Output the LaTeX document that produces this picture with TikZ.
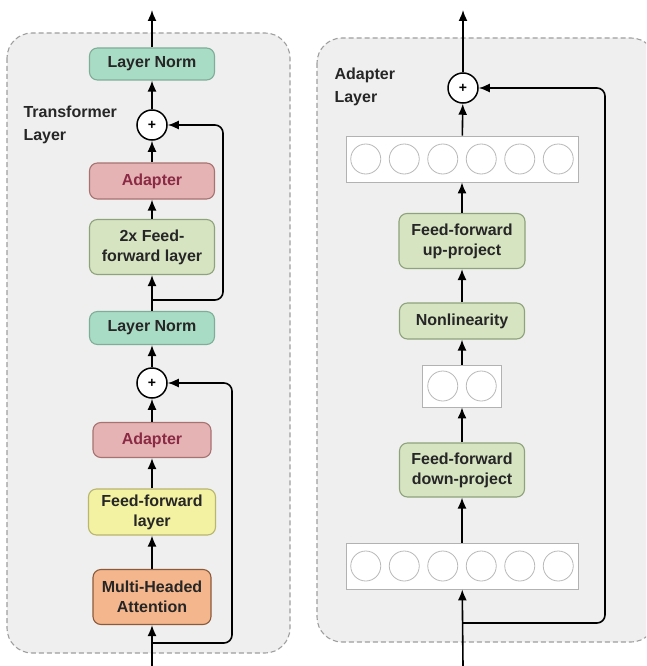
\documentclass[tikz,border=0pt]{standalone}
\usepackage{fontspec}
\setmainfont{Liberation Sans}
\usepackage{xcolor}
\usepackage{tikz}
\usetikzlibrary{arrows.meta}
\usetikzlibrary{positioning}

\definecolor{panelgray}{HTML}{EFEFEF}
\definecolor{normfill}{HTML}{A9DCC5}
\definecolor{normline}{HTML}{7FAE98}
\definecolor{adapterfill}{HTML}{E5B3B3}
\definecolor{adapterline}{HTML}{A87272}
\definecolor{adaptertext}{HTML}{8A2A45}
\definecolor{fffill}{HTML}{D6E4C2}
\definecolor{ffline}{HTML}{8FA37B}
\definecolor{yellowfill}{HTML}{F3F1A2}
\definecolor{yellowline}{HTML}{B9B66E}
\definecolor{attnfill}{HTML}{F4B68C}
\definecolor{attnline}{HTML}{8C5A3A}

\tikzset{
  panel/.style={draw=gray!75, dashed, dash pattern=on 5pt off 3pt, line width=1.1pt, rounded corners=25pt, fill=panelgray},
  block/.style={draw, rounded corners=8pt, line width=1.1pt, align=center, inner sep=2pt,
    font=\bfseries\fontsize{16}{20}\selectfont, text=black!85},
  sum/.style={draw, circle, line width=1.5pt, minimum size=30pt, inner sep=0pt, fill=white,
    font=\bfseries\fontsize{14}{14}\selectfont},
  neuronrow/.style={draw=gray!60, fill=white, line width=0.8pt, inner sep=0pt},
  neuron/.style={draw=gray!55, circle, fill=white, line width=0.8pt, minimum size=30pt, inner sep=0pt},
  flow/.style={draw, line width=1.6pt, rounded corners=8pt, -{Latex[length=11pt,width=9pt]}},
  title/.style={align=left, anchor=west, font=\bfseries\fontsize{16}{23}\selectfont, text=black!85}
}

\begin{document}
\begin{tikzpicture}[x=1pt, y=-1pt]

\clip (0,0) rectangle (646,666);
\fill[white] (0,0) rectangle (646,666);

% panels
\path[panel] (7,33) rectangle (290,653);
\path[panel] (317,38) rectangle (656,642);

% transformer layer
\node[block, fill=normfill, draw=normline, minimum width=125pt, minimum height=32pt] (lnA) at (152,64) {Layer Norm};
\node[sum] (sumA) at (152,125) {+};
\node[block, fill=adapterfill, draw=adapterline, text=adaptertext, minimum width=125pt, minimum height=36pt] (adA) at (152,181) {Adapter};
\node[block, fill=fffill, draw=ffline, minimum width=125pt, minimum height=55pt] (ffA) at (152,247) {2x Feed-\\forward layer};
\node[block, fill=normfill, draw=normline, minimum width=125pt, minimum height=33pt] (lnB) at (152,328) {Layer Norm};
\node[sum] (sumB) at (152,383) {+};
\node[block, fill=adapterfill, draw=adapterline, text=adaptertext, minimum width=118pt, minimum height=35pt] (adB) at (152,440) {Adapter};
\node[block, fill=yellowfill, draw=yellowline, minimum width=127pt, minimum height=46pt] (ffB) at (152,512) {Feed-forward\\layer};
\node[block, fill=attnfill, draw=attnline, minimum width=118pt, minimum height=55pt] (mha) at (152,597) {Multi-Headed\\Attention};
\node[title] (tlabel) at (20,125) {Transformer\\Layer};

\coordinate (outA) at (152,10);
\coordinate (inA) at (152,666);
\coordinate (forkA) at (152,300);
\coordinate (forkB) at (152,643);

% adapter layer
\node[sum] (sumC) at (463,88) {+};
\node[neuronrow, minimum width=232pt, minimum height=46pt] (upper) at (462,159) {};
\node[block, fill=fffill, draw=ffline, minimum width=126pt, minimum height=55pt] (ffUp) at (462,241) {Feed-forward\\up-project};
\node[block, fill=fffill, draw=ffline, minimum width=125pt, minimum height=36pt] (nonlin) at (462,321) {Nonlinearity};
\node[neuronrow, minimum width=79pt, minimum height=42pt] (middle) at (462,386) {};
\node[block, fill=fffill, draw=ffline, minimum width=125pt, minimum height=54pt] (ffDown) at (462,470) {Feed-forward\\down-project};
\node[neuronrow, minimum width=232pt, minimum height=46pt] (lower) at (462,566) {};
\node[title] (alabel) at (331,87) {Adapter\\Layer};

\foreach \i in {0,...,5} {
  \node[neuron] (up\i) at (365.75+38.5*\i,159) {};
  \node[neuron] (lo\i) at (365.75+38.5*\i,566) {};
}
\node[neuron] (mid0) at (442.75,386) {};
\node[neuron] (mid1) at (481.25,386) {};

\coordinate (outC) at (463,10);
\coordinate (inC) at (463,666);
\coordinate (forkC) at (463,623);

% transformer flow
\path[flow] (inA) -- (mha);
\path[flow] (mha) -- (ffB);
\path[flow] (ffB) -- (adB);
\path[flow] (adB) -- (sumB);
\path[flow] (sumB) -- (lnB);
\path[flow] (lnB) -- (ffA);
\path[flow] (ffA) -- (adA);
\path[flow] (adA) -- (sumA);
\path[flow] (sumA) -- (lnA);
\path[flow] (lnA) -- (outA);
\path[flow] (forkB) -- ++(80,0) |- (sumB);
\path[flow] (forkA) -- ++(71,0) |- (sumA);

% adapter flow
\path[flow] (inC) -- (lower);
\path[flow] (lower) -- (ffDown);
\path[flow] (ffDown) -- (middle);
\path[flow] (middle) -- (nonlin);
\path[flow] (nonlin) -- (ffUp);
\path[flow] (ffUp) -- (upper);
\path[flow] (upper) -- (sumC);
\path[flow] (sumC) -- (outC);
\path[flow] (forkC) -- ++(142,0) |- (sumC);

\end{tikzpicture}
\end{document}
